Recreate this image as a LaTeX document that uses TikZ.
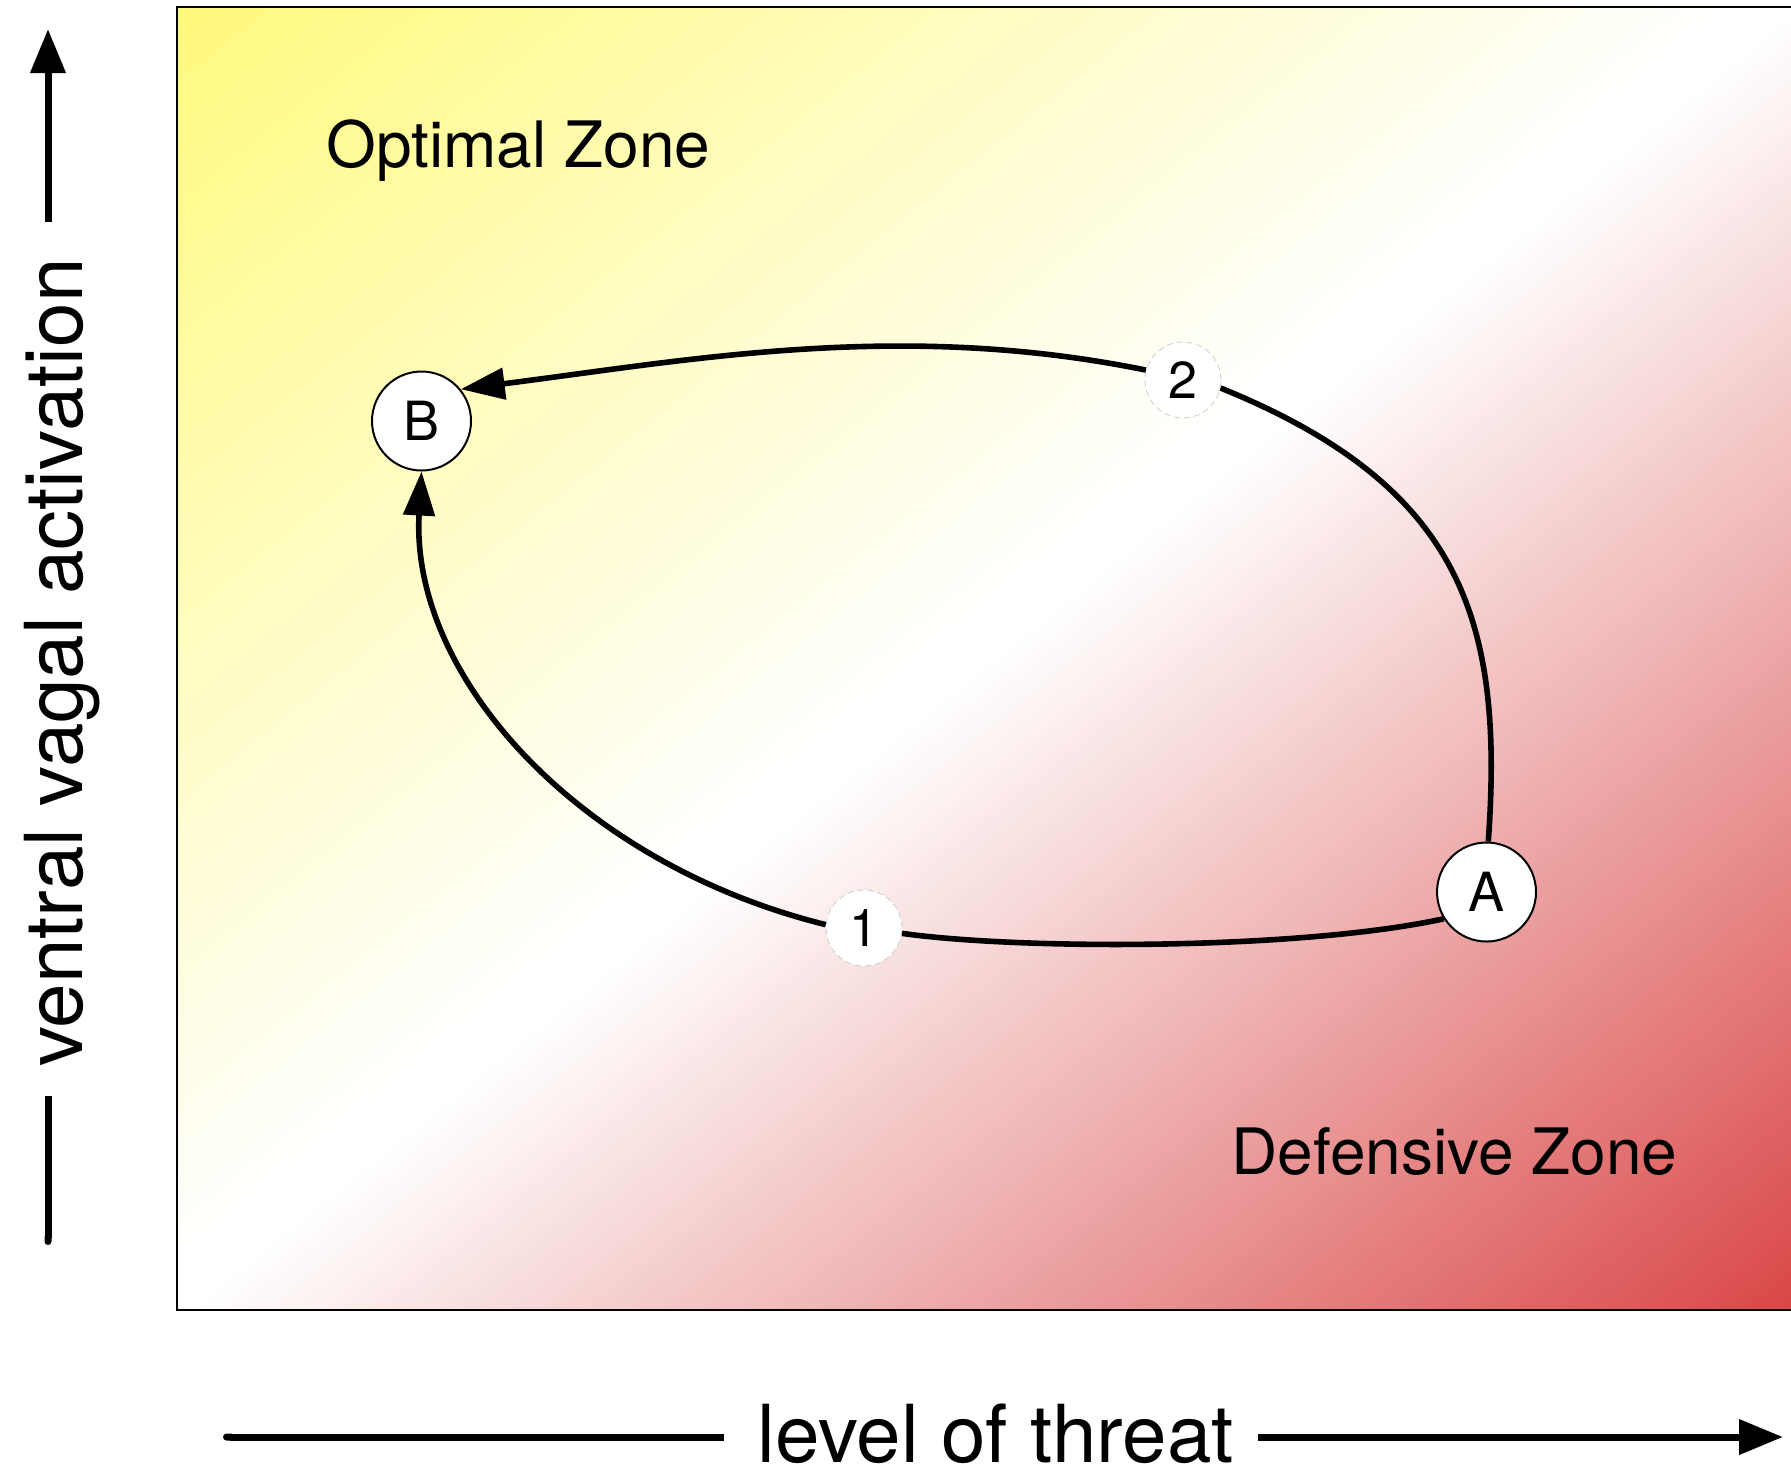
\documentclass[tikz,border=0pt]{standalone}
\usepackage{fontspec}
\setmainfont{TeX Gyre Heros}
\usetikzlibrary{arrows.meta}

\definecolor{zoneyellow}{RGB}{255,249,125}
\definecolor{zonered}{RGB}{217,70,70}

\tikzset{
  statenode/.style={circle, draw=black, line width=1pt, fill=white,
    minimum size=49.5pt, inner sep=0pt, font=\fontsize{27}{30}\selectfont},
  stepnode/.style={circle, draw=black!20, densely dashed, line width=0.4pt,
    fill=white, minimum size=38pt, inner sep=0pt, font=\fontsize{26}{30}\selectfont},
  flow/.style={line width=2.8pt, draw=black},
  flowtip/.style={-{Triangle[length=22pt,width=15.5pt]}},
  axisline/.style={line width=3.5pt, draw=black},
  axistip/.style={-{Triangle[length=22pt,width=17pt]}},
  zonelabel/.style={anchor=base west, inner sep=0pt, font=\fontsize{32}{38}\selectfont},
  axislabel/.style={anchor=base west, inner sep=0pt, font=\fontsize{40}{48}\selectfont},
}

\begin{document}
\begin{tikzpicture}[x=0.5pt, y=-0.5pt]
  % page
  \fill[white] (0,0) rectangle (1791,1474);
  \useasboundingbox (0,0) rectangle (1791,1474);

  % diagonal yellow -> white -> red background of the plot area
  \begin{scope}
    \clip (177,7) rectangle (1791,1310);
    \begin{scope}[shift={(177,7)}, rotate=-51.08]
      \foreach \i in {0,...,239}{
        \pgfmathsetmacro\tpos{\i/240}
        \pgfmathsetmacro\dist{\tpos*2030}
        \pgfmathsetmacro\py{max(0,100*(1-\tpos/0.48))}
        \pgfmathsetmacro\pr{max(0,100*(\tpos-0.5)/0.5)}
        \ifdim\py pt>0pt \def\zonecol{zoneyellow!\py!white}\else\def\zonecol{zonered!\pr!white}\fi
        \fill[\zonecol] (\dist,-1400) rectangle (2300,1400);
      }
    \end{scope}
  \end{scope}

  % plot frame
  \draw[line width=1.1pt] (1791,7) -- (177,7) -- (177,1310) -- (1791,1310);

  % zone labels
  \node[zonelabel] (optimal) at (326,167) {Optimal Zone};
  \node[zonelabel] (defensive) at (1231,1174) {Defensive Zone};

  % states and steps
  \node[statenode] (B) at (421.5,421) {B};
  \node[statenode] (A) at (1486.5,892) {A};
  \node[stepnode] (s1) at (864,928) {1};
  \node[stepnode] (s2) at (1183,380) {2};

  % path 1: A -> 1 -> B
  \draw[flow] (A.212) .. controls (1300,950) and (1020,950) .. (s1.-8);
  \draw[flow, flowtip] (s1.175) .. controls (577,863) and (410,675) .. (B.south);

  % path 2: A -> 2 -> B
  \draw[flow] (A.88) .. controls (1504,620) and (1462,486) .. (s2.-12);
  \draw[flow, flowtip] (s2.165) .. controls (900,320) and (690,360) .. (B.39);

  % vertical axis
  \coordinate (vtop) at (48,29);
  \coordinate (vgaptop) at (48,222);
  \coordinate (vgapbot) at (48,1096);
  \coordinate (vbot) at (48,1245);
  \draw[axisline, axistip] (vgaptop) -- (vtop);
  \draw[axisline, {Round Cap[]}-] (vbot) -- (vgapbot);
  \node[axislabel, rotate=90] (ylabel) at (82,1067) {ventral vagal activation};

  % horizontal axis
  \coordinate (hleft) at (223,1437);
  \coordinate (hgapleft) at (724,1437);
  \coordinate (hgapright) at (1258,1437);
  \coordinate (hright) at (1783,1437);
  \draw[axisline, {Round Cap[]}-] (hleft) -- (hgapleft);
  \draw[axisline, axistip] (hgapright) -- (hright);
  \node[axislabel] (xlabel) at (757,1462) {level of threat};
\end{tikzpicture}
\end{document}
